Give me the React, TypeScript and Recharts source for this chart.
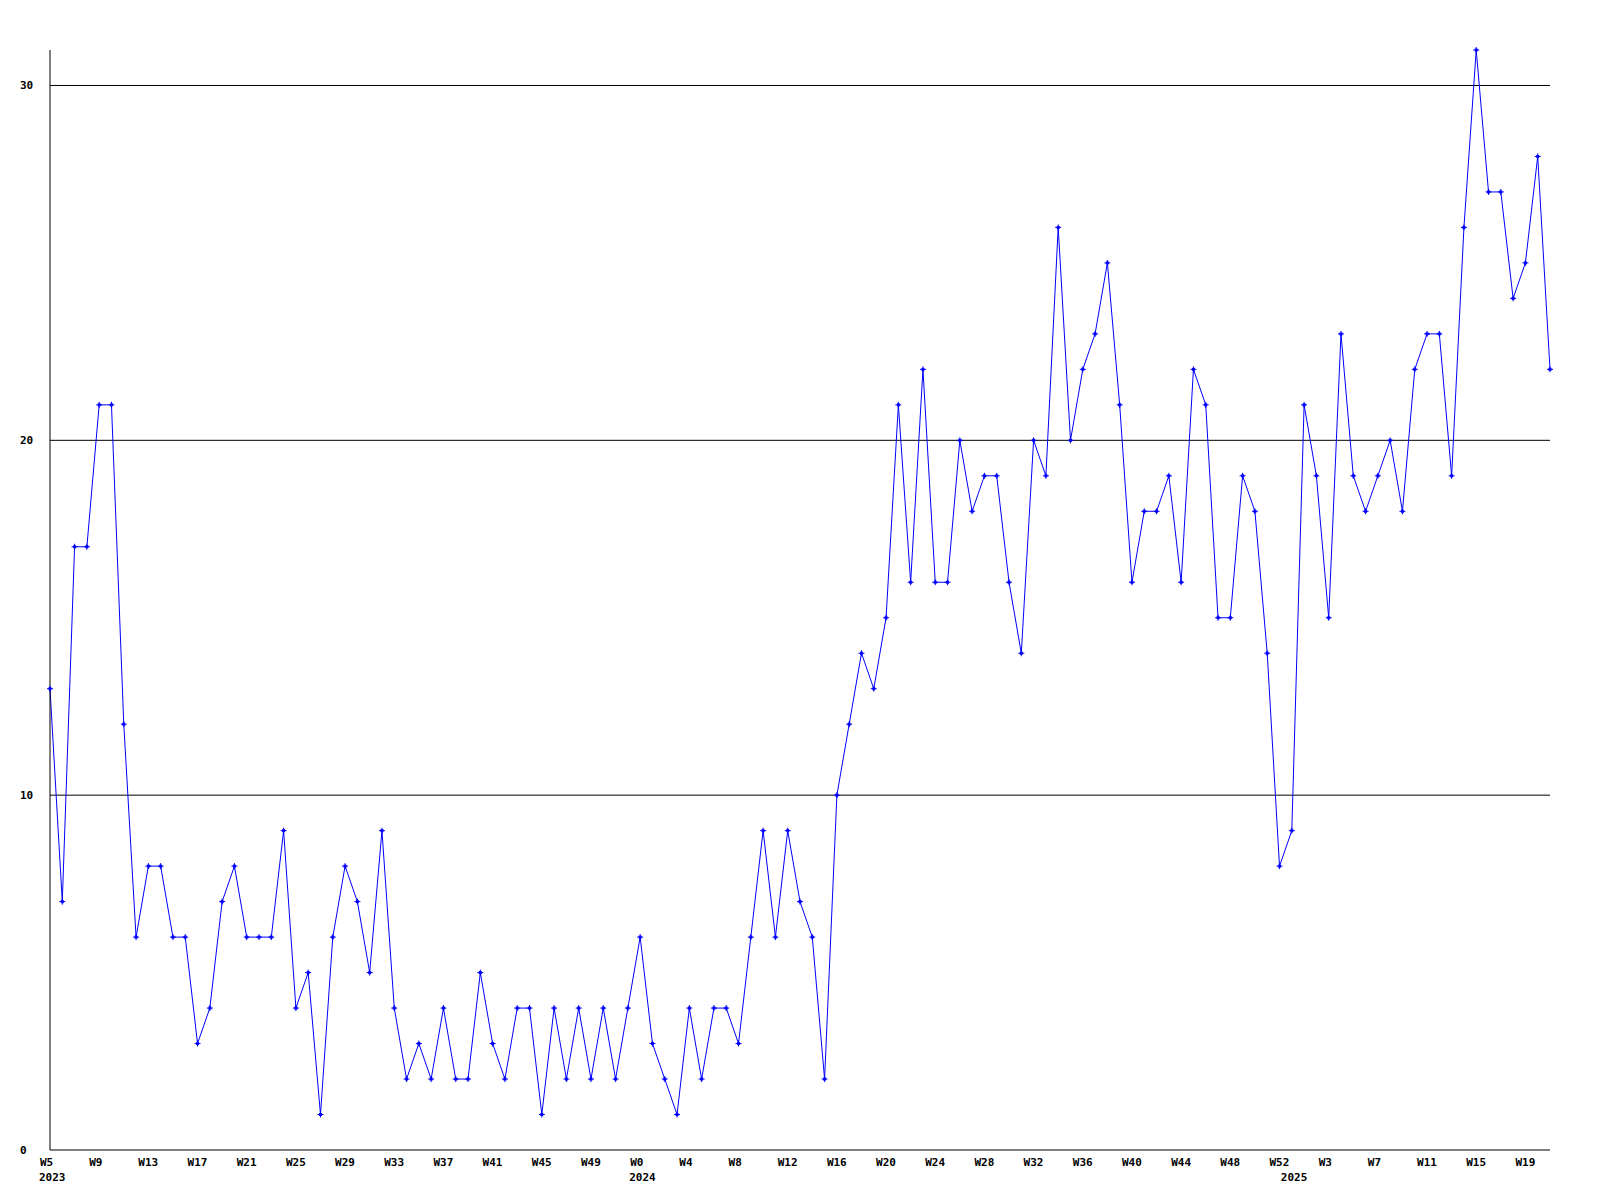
import { LineChart, Line, XAxis, YAxis, ReferenceLine } from 'recharts';

// weekly counts, one array per year
const values2023 = [
  13, 7, 17, 17, 21, 21, 12, 6, 8, 8,
  6, 6, 3, 4, 7, 8, 6, 6, 6, 9,
  4, 5, 1, 6, 8, 7, 5, 9, 4, 2,
  3, 2, 4, 2, 2, 5, 3, 2, 4, 4,
  1, 4, 2, 4, 2, 4, 2, 4,
];
const values2024 = [
  6, 3, 2, 1, 4, 2, 4, 4, 3, 6,
  9, 6, 9, 7, 6, 2, 10, 12, 14, 13,
  15, 21, 16, 22, 16, 16, 20, 18, 19, 19,
  16, 14, 20, 19, 26, 20, 22, 23, 25, 21,
  16, 18, 18, 19, 16, 22, 21, 15, 15, 19,
  18, 14, 8,
];
const values2025 = [
  9, 21, 19, 15, 23, 19, 18, 19, 20, 18,
  22, 23, 23, 19, 26, 31, 27, 27, 24, 25,
  28, 22,
];

// first week number of each year's run
const years = ['2023', '2024', '2025'];
const firstWeeks = [5, 0, 0];
const yearValues = [values2023, values2024, values2025];

const yTicks = [0, 10, 20, 30];
const labelEvery = 4;

const data: { idx: number; week: string; year: string | null; value: number }[] = [];
yearValues.forEach((vals, y) => {
  vals.forEach((v, i) => {
    data.push({
      idx: data.length,
      week: `W${firstWeeks[y] + i}`,
      year: i === 0 ? years[y] : null,
      value: v,
    });
  });
});

const lastIdx = data.length - 1;
const xTicks = data
  .filter((d) => d.idx % labelEvery === 0 || d.year)
  .map((d) => d.idx);

const FONT = '"DejaVu Sans Mono", monospace';

function WeekTick(props: any) {
  const { x, payload } = props;
  const d = data[payload.value];
  if (!d) return null;
  return (
    <g>
      {d.idx % labelEvery === 0 && (
        <text x={x - 10} y={1162} textAnchor="start" dominantBaseline="central"
          fontFamily={FONT} fontWeight="bold" fontSize={11} fill="#000">
          {d.week}
        </text>
      )}
      {d.year && (
        <text x={x - 11} y={1177} textAnchor="start" dominantBaseline="central"
          fontFamily={FONT} fontWeight="bold" fontSize={11} fill="#000">
          {d.year}
        </text>
      )}
    </g>
  );
}

function ValueTick(props: any) {
  const { y, payload } = props;
  return (
    <text x={20} y={y} textAnchor="start" dominantBaseline="central"
      fontFamily={FONT} fontWeight="bold" fontSize={11} fill="#000">
      {payload.value}
    </text>
  );
}

function PlusDot(props: any) {
  const { cx, cy, index } = props;
  if (cx == null || cy == null) return null;
  return (
    <g key={`dot-${index}`}>
      <path d={`M${cx - 3},${cy}h6M${cx},${cy - 3}v6`} stroke="#0000ff" strokeWidth={1} />
      <rect x={cx - 1.5} y={cy - 1.5} width={3} height={3} fill="#0000ff" />
    </g>
  );
}

export default function App() {
  return (
    <div style={{ position: 'absolute', left: 0, top: 0, width: 1600, height: 1200, background: '#fff' }}>
      <LineChart width={1600} height={1200} data={data}
        margin={{ top: 50, right: 50, bottom: 0, left: 0 }}>
        {yTicks.filter((t) => t > 0).map((t) => (
          <ReferenceLine key={t} y={t} stroke="#000" strokeWidth={1} />
        ))}
        <XAxis dataKey="idx" type="number" domain={[0, lastIdx]} ticks={xTicks}
          interval={0} height={50} tickLine={false}
          axisLine={{ stroke: '#000', strokeWidth: 1 }} tick={<WeekTick />} />
        <YAxis domain={[0, 31]} ticks={yTicks} width={50} tickLine={false}
          axisLine={{ stroke: '#000', strokeWidth: 1 }} tick={<ValueTick />} />
        <Line type="linear" dataKey="value" stroke="#0000ff" strokeWidth={1}
          dot={PlusDot} activeDot={false} isAnimationActive={false} />
      </LineChart>
    </div>
  );
}
